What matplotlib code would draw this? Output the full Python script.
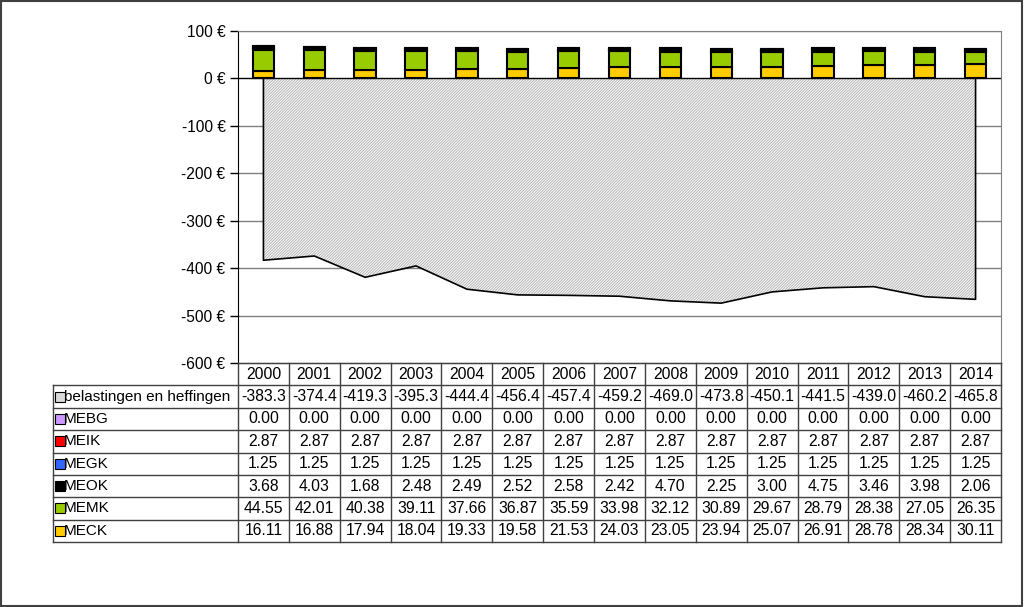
import matplotlib
matplotlib.use("Agg")
import matplotlib.pyplot as plt
import numpy as np
from matplotlib.patches import Rectangle

plt.rcParams['font.family'] = ['Liberation Sans', 'DejaVu Sans']
plt.rcParams['hatch.linewidth'] = 0.5

years = ['2000', '2001', '2002', '2003', '2004', '2005', '2006', '2007',
         '2008', '2009', '2010', '2011', '2012', '2013', '2014']
belastingen = [-383.3, -374.4, -419.3, -395.3, -444.4, -456.4, -457.4, -459.2,
               -469.0, -473.8, -450.1, -441.5, -439.0, -460.2, -465.8]
MEBG = [0.00] * 15
MEIK = [2.87] * 15
MEGK = [1.25] * 15
MEOK = [3.68, 4.03, 1.68, 2.48, 2.49, 2.52, 2.58, 2.42, 4.70, 2.25, 3.00, 4.75, 3.46, 3.98, 2.06]
MEMK = [44.55, 42.01, 40.38, 39.11, 37.66, 36.87, 35.59, 33.98, 32.12, 30.89, 29.67, 28.79, 28.38, 27.05, 26.35]
MECK = [16.11, 16.88, 17.94, 18.04, 19.33, 19.58, 21.53, 24.03, 23.05, 23.94, 25.07, 26.91, 28.78, 28.34, 30.11]

yticks = [100, 0, -100, -200, -300, -400, -500, -600]

# stacking order bottom -> top
stack = [('MECK', MECK, '#FFCC00'), ('MEMK', MEMK, '#99CC00'), ('MEOK', MEOK, '#000000'),
         ('MEGK', MEGK, '#3366FF'), ('MEIK', MEIK, '#FF0000'), ('MEBG', MEBG, '#CC99FF')]
# table order top -> bottom
table_rows = [('belastingen en heffingen', belastingen, '#D9D9D9', '{:.1f}'),
              ('MEBG', MEBG, '#CC99FF', '{:.2f}'), ('MEIK', MEIK, '#FF0000', '{:.2f}'),
              ('MEGK', MEGK, '#3366FF', '{:.2f}'), ('MEOK', MEOK, '#000000', '{:.2f}'),
              ('MEMK', MEMK, '#99CC00', '{:.2f}'), ('MECK', MECK, '#FFCC00', '{:.2f}')]

W, H = 1024, 607
fig = plt.figure(figsize=(W / 100, H / 100), dpi=100)

L, R, T, B = 238, 1001, 31, 363
ax = fig.add_axes([L / W, 1 - B / H, (R - L) / W, (B - T) / H])
x = np.arange(len(years))
ax.set_xlim(-0.5, len(years) - 0.5)
ax.set_ylim(-600, 100)

# gridlines
for yv in yticks:
    if yv not in (0, -600):
        ax.axhline(yv, color='#808080', lw=1, zorder=1)

# area
ax.fill_between(x, 0, belastingen, facecolor='#F4F4F4', edgecolor='#A8A8A8',
                hatch='/' * 12, linewidth=0, zorder=2)
ax.plot(np.concatenate([[x[0]], x, [x[-1]]]), np.concatenate([[0], belastingen, [0]]),
        color='black', lw=1.2, zorder=3)

# bars
bottom = np.zeros(len(years))
for name, vals, col in stack:
    vals = np.array(vals)
    ax.bar(x, vals, bottom=bottom, width=0.42, color=col, edgecolor='black',
           linewidth=1.5, zorder=4)
    bottom += vals

ax.axhline(0, color='black', lw=1, zorder=5)

ax.set_yticks(yticks)
ax.set_yticklabels([f'{v} €' for v in yticks], fontsize=11.2)
ax.tick_params(axis='y', direction='out', length=6, width=1, pad=3)
ax.set_xticks([])
for s in ['top', 'right']:
    ax.spines[s].set_color('#808080')
ax.spines['left'].set_color('black')
ax.spines['bottom'].set_color('black')

# data table
TL, TB = 53, 542
tab = fig.add_axes([TL / W, 1 - TB / H, (R - TL) / W, (TB - B) / H])
unit = (R - L) / len(years)
x0 = -0.5 - (L - TL) / unit
tab.set_xlim(x0, len(years) - 0.5)
tab.set_ylim(0, 8)
tab.axis('off')
lc = '#404040'
for k in range(8):
    tab.plot([x0, len(years) - 0.5], [k, k], color=lc, lw=1, clip_on=False)
tab.plot([-0.5, len(years) - 0.5], [8, 8], color=lc, lw=1, clip_on=False)
for k in range(len(years) + 1):
    tab.plot([-0.5 + k, -0.5 + k], [0, 8], color=lc, lw=1, clip_on=False)
tab.plot([x0, x0], [0, 7], color=lc, lw=1, clip_on=False)

fs = 11.3
for i, yr in enumerate(years):
    tab.text(i, 7.5, yr, ha='center', va='center', fontsize=fs)
for r, (name, vals, col, fmt) in enumerate(table_rows):
    yc = 6.5 - r
    tab.plot([x0 + 0.14], [yc], marker='s', markersize=7, markerfacecolor=col,
             markeredgecolor='black', markeredgewidth=0.8, clip_on=False)
    tab.text(x0 + 0.21, yc, name, ha='left', va='center', fontsize=11.0)
    for i, v in enumerate(vals):
        tab.text(i, yc, fmt.format(v), ha='center', va='center', fontsize=fs)

fig.patches.append(Rectangle((0.001, 0.002), 0.997, 0.996, transform=fig.transFigure,
                             fill=False, edgecolor='#404040', lw=1.5))

fig.savefig('out.png', dpi=100)
